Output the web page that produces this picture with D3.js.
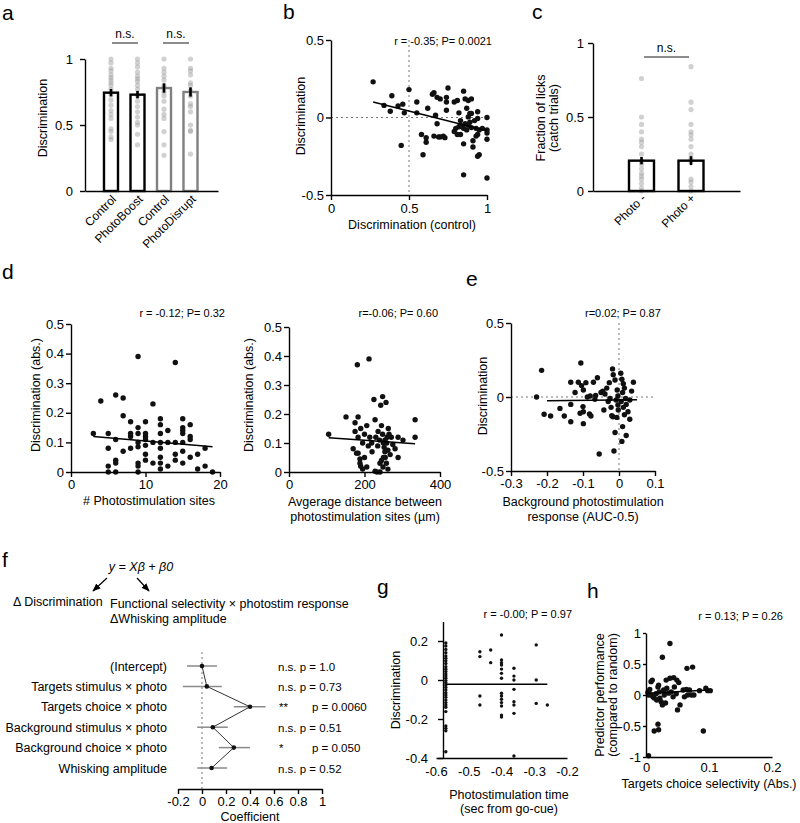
<!DOCTYPE html>
<html><head><meta charset="utf-8">
<script src="https://cdn.jsdelivr.net/npm/d3@7"></script>
<style>body{margin:0;background:#fff}svg{display:block}</style>
</head><body><svg id="c" width="800" height="823"></svg>
<script>
// ---------- DATA ----------
const A_labels = ["Control","PhotoBoost","Control","PhotoDisrupt"];
const A_means = [0.745, 0.73, 0.78, 0.75];
const A_sem = [0.028, 0.028, 0.035, 0.035];
const A_dots = [
  [1,.97,.93,.91,.88,.86,.84,.82,.8,.77,.73,.69,.65,.61,.58,.55,.47,.45,.41,.39],
  [1,.97,.94,.9,.87,.85,.83,.8,.77,.72,.68,.64,.6,.56,.52,.5,.43,.35],
  [1,.93,.9,.87,.84,.8,.78,.75,.72,.68,.62,.58,.55,.45,.35,.27],
  [1,.93,.91,.88,.82,.8,.76,.72,.66,.64,.6,.5,.46,.45,.28]
];
const A_ticks = [0, 0.5, 1];

const B_x = [.27,.34,.38,.39,.43,.45,.46,.47,.50,.55,.55,.58,.59,.61,.61,.62,.65,.66,.67,.68,.68,.69,.70,.70,.73,.74,.75,.74,.74,.79,.79,.81,.81,.83,.82,.83,.83,.84,.85,.85,.85,.86,.87,.88,.88,.89,.89,.90,.90,.90,.91,.91,.93,.94,.94,.95,.94,.94,.95,.97,1.0,1.0,1.0,1.0,1.0,.85,.86,.87,.88,.92,.93,.82,.80,.66,.72];
const B_y = [.23,.078,.04,.14,.075,-.18,.086,.03,.18,.10,.03,-.11,-.24,-.13,-.16,.06,.15,.16,.015,.13,-.04,-.125,.12,-.125,-.13,.13,.19,.10,.047,.10,-.09,.11,-.11,-.11,.03,-.02,-.05,-.06,-.07,-.17,.17,.12,.06,.11,.004,.026,-.03,.12,.026,-.065,-.19,-.15,-.07,-.11,-.25,-.24,.037,-.006,-.08,-.07,0,-.08,-.1,-.14,-.39,-.37,-.04,-.08,-.05,-.02,-.12,-.06,-.07,-.12,-.12];
const B_fitX = [0.27, 1.0];
const B_fitY = [0.10, -0.085];
const B_ticksX = [0, 0.5, 1];
const B_ticksY = [-0.5, 0, 0.5];

const C_labels = ["Photo -","Photo +"];
const C_means = [0.205, 0.205];
const C_sem = [0.025, 0.03];
const C_dots = [
  [.76,.5,.45,.4,.35,.33,.3,.25,.2,.18,.15,.12,.1,.08,.05,.02,0],
  [.84,.6,.55,.45,.4,.38,.35,.3,.25,.22,.2,.08,.06,.03,0]
];
const C_ticks = [0, 0.5, 1];

const D1_x = [3,4,5,5,5,5,6,6,6,6,6,7,7,7,8,8,8,8,9,9,9,9,9,9,9,9,10,10,10,10,10,10,10,11,11,11,12,12,12,12,12,12,12,12,13,13,13,14,14,14,14,15,15,15,15,15,15,15,16,16,16,16,17,17,18,18,19];
const D1_y = [.13,.24,.13,.08,.02,0,.26,.11,.04,.03,0,.25,.19,.07,.17,.12,.08,.13,.39,.15,.13,.10,.085,.03,.02,0,.17,.13,.12,.11,.09,.06,.04,.23,.10,.03,.18,.16,.13,.10,.08,.05,.03,.01,.14,.10,.02,.37,.10,.06,.04,.18,.15,.14,.13,.10,.07,.03,.16,.12,.11,.05,.06,.01,.08,.02,0];
const D1_fitX = [3, 19];
const D1_fitY = [0.12, 0.085];
const D1_ticksX = [0, 10, 20];

const D2_x = [105,151,181,183,212,225,248,243,257,175,175,183,170,179,188,206,214,219,228,236,245,248,254,259,263,271,281,289,334,334,302,183,188,206,241,249,289,254,228,241,190,195,200,210,220,230,235,240,250,252,255,260,262,265,268,275,190,195,233,245,258,262,250,200];
const D2_y = [.13,.19,.37,.19,.39,.25,.26,.23,.24,.17,.14,.12,.08,.065,.045,.16,.12,.10,.18,.14,.16,.13,.11,.10,.15,.12,.08,.12,.18,.12,.11,.065,.03,.017,.03,.017,.05,.07,.003,0,.15,.10,.13,.09,.07,.12,.09,.11,.10,.085,.05,.12,.075,.13,.06,.095,.02,.01,0,.04,.03,.01,.05,.05];
const D2_fitX = [105, 334];
const D2_fitY = [0.118, 0.097];
const D2_ticksX = [0, 200, 400];
const D_ticksY = [0, 0.1, 0.2, 0.3, 0.4, 0.5];

const E_x = [-.229,-.215,-.208,-.19,-.164,-.152,-.134,-.134,-.134,-.122,-.113,-.106,-.104,-.099,-.10,-.099,-.099,-.108,-.092,-.088,-.08,-.082,-.078,-.071,-.067,-.06,-.042,-.039,-.034,-.027,-.022,-.018,-.016,-.011,-.011,-.014,-.055,-.02,-.017,-.006,-.005,-.003,-.003,-.002,.005,.008,.012,.015,.01,.018,.006,.02,.012,.025,.015,.03,.01,.02,.008,.035,.04,.03,-.05,-.045,-.065,-.03,-.025,-.008];
const E_y = [0,.18,-.117,-.128,-.077,-.128,-.167,-.05,.1,.03,.1,.23,.077,.047,-.065,-.1,-.18,-.11,.097,0,.007,-.115,-.128,.1,-.016,.13,-.088,.02,.06,.097,-.07,.19,.15,.115,-.24,-.365,-.385,-.126,-.133,-.138,.047,.007,-.054,-.088,.16,.12,.09,.06,.03,-.01,-.03,-.05,-.07,-.1,-.12,-.15,-.2,-.26,-.3,.04,.1,-.02,.03,.04,.01,-.03,-.01,-.02];
const E_fitX = [-0.2, 0.05];
const E_fitY = [-0.025, -0.018];
const E_ticksX = [-0.3, -0.2, -0.1, 0, 0.1];
const E_ticksY = [-0.5, 0, 0.5];

const F_terms = ["(Intercept)","Targets stimulus \u00d7 photo","Targets choice \u00d7 photo","Background stimulus \u00d7 photo","Background choice \u00d7 photo","Whisking amplitude"];
const F_coef = [0, 0.04, 0.40, 0.09, 0.265, 0.08];
const F_lo = [-0.125, -0.16, 0.265, -0.04, 0.14, -0.04];
const F_hi = [0.125, 0.165, 0.53, 0.215, 0.40, 0.21];
const F_sig = ["n.s.","n.s.","**","n.s.","*","n.s."];
const F_p = ["p = 1.0","p = 0.73","p = 0.0060","p = 0.51","p = 0.050","p = 0.52"];
const F_ticks = [-0.2, 0, 0.2, 0.4, 0.6, 0.8, 1];

const G_times = [-0.57, -0.466, -0.433, -0.40, -0.362, -0.294, -0.26];
const G_values = [
  [.19,.174,.157,.14,.123,.111,.099,.085,.068,.055,.043,.031,.02,.009,-.003,-.014,-.026,-.038,-.051,-.065,-.077,-.089,-.103,-.116,-.128,-.14,-.162,-.236,-.248,-.26,-.368],
  [.145,.12,-.082,-.128],
  [.154,.089],
  [.231,.103,.089,.077,.056,.034,.009,-.068,-.082,-.099,-.116,-.133,-.18,-.19],
  [.06,.02,0,-.048,-.111,-.128,-.171,-.39],
  [.18,0,-.12],
  [-.128]
];
const G_fitX = [-0.57, -0.26];
const G_fitY = [-0.022, -0.022];
const G_ticksX = [-0.6, -0.5, -0.4, -0.3, -0.2];
const G_ticksY = [-0.4, -0.2, 0, 0.2];

const H_x = [.038,.026,.065,.074,.008,.01,.032,.038,.044,.049,.052,.003,.008,.011,.013,.016,.019,.02,.021,.022,.024,.026,.028,.029,.031,.033,.036,.040,.043,.045,.048,.05,.054,.059,.061,.064,.066,.069,.072,.076,.085,.095,.098,.102,.091,.013,.02,.019,.006,.017,.004,.004];
const H_y = [.83,.61,.43,.45,.215,.24,.24,.27,.28,.24,.2,.04,0,-.03,-.05,.02,.13,.16,.05,-.05,-.11,-.16,.08,0,-.13,.11,.03,.05,-.03,.13,.02,-.24,-.16,.08,-.03,.09,0,.08,0,0,.07,.11,.07,.07,-.58,-.58,-.56,-.47,.09,-.08,0,-.98];
const H_fitX = [0.003, 0.1];
const H_fitY = [0.03, 0.08];
const H_ticksX = [0, 0.1, 0.2];
const H_ticksY = [-1, -0.5, 0, 0.5, 1];

// ---------- DRAWING ----------
const F_ = '"Liberation Sans", Arial, Helvetica, sans-serif';
const svg = d3.select("#c");
const fmt = d => String(d);

function st(ax, fs) {
  ax.selectAll('.domain').attr('stroke','#000').attr('stroke-width',1.4);
  ax.selectAll('.tick line').attr('stroke','#000').attr('stroke-width',1.4);
  ax.selectAll('.tick text').attr('font-size',fs||13).attr('font-family',F_).attr('fill','#000');
  return ax;
}
function txt(x, y, s, o = {}) {
  const t = svg.append('text').attr('x',x).attr('y',y).text(s)
    .attr('font-family',F_).attr('font-size',o.fs||12.5)
    .attr('text-anchor',o.a||'start').attr('fill',o.c||'#000');
  if (o.rot) t.attr('transform',`rotate(${o.rot},${x},${y})`);
  if (o.it) t.attr('font-style','italic');
  return t;
}
function leftAxis(x, ys, ticks, size, pad) {
  return st(svg.append('g').attr('transform',`translate(${x},0)`)
    .call(d3.axisLeft(ys).tickValues(ticks).tickFormat(fmt).tickSize(size).tickPadding(pad).tickSizeOuter(0)));
}
function bottomAxis(y, xs, ticks, size, pad) {
  return st(svg.append('g').attr('transform',`translate(0,${y})`)
    .call(d3.axisBottom(xs).tickValues(ticks).tickFormat(fmt).tickSize(size).tickPadding(pad).tickSizeOuter(0)));
}
function dots(xs, ys, X, Y, r) {
  svg.append('g').selectAll('circle').data(d3.range(X.length)).join('circle')
    .attr('cx', i => xs(X[i])).attr('cy', i => ys(Y[i])).attr('r', r).attr('fill','#111');
}
function fit(xs, ys, X, Y, w) {
  svg.append('path').attr('d', d3.line().x((d,i)=>xs(X[i])).y((d,i)=>ys(Y[i]))(X))
    .attr('stroke','#000').attr('stroke-width',w||1.5).attr('fill','none');
}
function dotted(x1,y1,x2,y2){
  svg.append('line').attr('x1',x1).attr('y1',y1).attr('x2',x2).attr('y2',y2)
    .attr('stroke','#777').attr('stroke-width',1).attr('stroke-dasharray','2,3');
}
function bracket(x1,x2,y,label){
  svg.append('line').attr('x1',x1).attr('x2',x2).attr('y1',y).attr('y2',y).attr('stroke','#666').attr('stroke-width',1.5);
  txt((x1+x2)/2, y-5, label, {a:'middle', fs:12});
}

// panel letters
[["a",2,20],["b",283,19],["c",532,19],["d",2,279],["e",466,286],["f",2,567],["g",377,594],["h",587,598]]
  .forEach(([l,x,y]) => txt(x,y,l,{fs:21}));

// ----- panel a -----
{
  const xs = d3.scalePoint().domain(d3.range(4)).range([111,190.5]);
  const ys = d3.scaleLinear([0,1],[191,59]);
  const g = svg.append('g');
  A_dots.forEach((arr,i) => g.selectAll(null).data(arr).join('circle')
      .attr('cx', xs(i)).attr('cy', d => ys(d)).attr('r',2.6).attr('fill','#999').attr('opacity',0.45));
  A_means.forEach((m,i) => {
    const col = i < 2 ? '#000' : '#808080';
    svg.append('rect').attr('x', xs(i)-7).attr('width',14).attr('y', ys(m)).attr('height', ys(0)-ys(m))
      .attr('fill','none').attr('stroke',col).attr('stroke-width',2.4);
    svg.append('line').attr('x1',xs(i)).attr('x2',xs(i)).attr('y1',ys(m-A_sem[i])).attr('y2',ys(m+A_sem[i]))
      .attr('stroke','#000').attr('stroke-width',2.6);
    txt(xs(i)+6, 200, A_labels[i], {a:'end', fs:12, rot:-45});
  });
  leftAxis(85, ys, A_ticks, 5, 7);
  bottomAxis(191, d3.scaleLinear([0,1],[85,218]), [], 0, 0);
  txt(47, 118, "Discrimination", {a:'middle', rot:-90});
  bracket(112,138,43,"n.s.");
  bracket(163,189,43,"n.s.");
}

// ----- panel b -----
{
  const xs = d3.scaleLinear([0,1],[331,487]);
  const ys = d3.scaleLinear([-0.5,0.5],[195,40]);
  dotted(xs(0.5), ys(0.5), xs(0.5), ys(-0.5));
  dotted(xs(0), ys(0), xs(1), ys(0));
  dots(xs, ys, B_x, B_y, 2.7);
  fit(xs, ys, B_fitX, B_fitY);
  leftAxis(331, ys, B_ticksY, 5, 2);
  bottomAxis(195, xs, B_ticksX, 5, 4);
  txt(305, 116, "Discrimination", {a:'middle', rot:-90});
  txt(412, 229, "Discrimination (control)", {a:'middle'});
  txt(492, 45, "r = -0.35; P= 0.0021", {a:'end', fs:11});
}

// ----- panel c -----
{
  const xs = d3.scalePoint().domain(d3.range(2)).range([641.5,691]);
  const ys = d3.scaleLinear([0,1],[191,43]);
  C_dots.forEach((arr,i) => svg.append('g').selectAll('circle').data(arr).join('circle')
      .attr('cx', xs(i)).attr('cy', d => ys(d)).attr('r',2.6).attr('fill','#999').attr('opacity',0.45));
  C_means.forEach((m,i) => {
    svg.append('rect').attr('x', xs(i)-12.5).attr('width',25).attr('y', ys(m)).attr('height', ys(0)-ys(m))
      .attr('fill','none').attr('stroke','#000').attr('stroke-width',2.4);
    svg.append('line').attr('x1',xs(i)).attr('x2',xs(i)).attr('y1',ys(m-C_sem[i])).attr('y2',ys(m+C_sem[i]))
      .attr('stroke','#000').attr('stroke-width',2.6);
    txt(xs(i)+5, 199, C_labels[i], {a:'end', fs:12, rot:-45});
  });
  leftAxis(593, ys, C_ticks, 5, 4);
  bottomAxis(191, d3.scaleLinear([0,1],[593,740]), [], 0, 0);
  txt(545, 118, "Fraction of licks", {a:'middle', rot:-90});
  txt(558, 118, "(catch trials)", {a:'middle', rot:-90});
  bracket(644,689,57,"n.s.");
}

// ----- panel d -----
{
  const xs = d3.scaleLinear([0,20],[71,220]);
  const ys = d3.scaleLinear([0,0.5],[472,324]);
  dots(xs, ys, D1_x, D1_y, 2.7);
  fit(xs, ys, D1_fitX, D1_fitY);
  leftAxis(71, ys, D_ticksY, 5, 2);
  bottomAxis(472, xs, D1_ticksX, 5, 3);
  txt(40, 395, "Discrimination (abs.)", {a:'middle', rot:-90});
  txt(149, 505, "# Photostimulation sites", {a:'middle'});
  txt(225, 317, "r = -0.12; P= 0.32", {a:'end', fs:11});

  const xs2 = d3.scaleLinear([0,400],[289,440]);
  const ys2 = d3.scaleLinear([0,0.5],[472,327]);
  dots(xs2, ys2, D2_x, D2_y, 2.7);
  fit(xs2, ys2, D2_fitX, D2_fitY);
  leftAxis(289, ys2, D_ticksY, 5, 2);
  bottomAxis(472, xs2, D2_ticksX, 5, 3);
  txt(253, 395, "Discrimination (abs.)", {a:'middle', rot:-90});
  txt(365, 506, "Avgerage distance between", {a:'middle'});
  txt(365, 521, "photostimulation sites (\u00b5m)", {a:'middle'});
  txt(438, 317, "r=-0.06; P= 0.60", {a:'end', fs:11});
}

// ----- panel e -----
{
  const xs = d3.scaleLinear([-0.3,0.1],[511,655]);
  const ys = d3.scaleLinear([-0.5,0.5],[471,323]);
  dotted(xs(-0.3), ys(0), xs(0.1), ys(0));
  dotted(xs(0), ys(0.5), xs(0), ys(-0.5));
  dots(xs, ys, E_x, E_y, 2.7);
  fit(xs, ys, E_fitX, E_fitY);
  leftAxis(511, ys, E_ticksY, 5, 2);
  bottomAxis(471, xs, E_ticksX, 5, 3);
  txt(487, 396, "Discrimination", {a:'middle', rot:-90});
  txt(583, 506, "Background photostimulation", {a:'middle'});
  txt(583, 521, "response (AUC-0.5)", {a:'middle'});
  txt(585, 317, "r=0.02; P= 0.87", {a:'start', fs:11});
}

// ----- panel f -----
{
  const defs = svg.append('defs');
  defs.append('marker').attr('id','arr').attr('viewBox','0 0 10 10').attr('refX',9).attr('refY',5)
    .attr('markerWidth',7).attr('markerHeight',7).attr('orient','auto')
    .append('path').attr('d','M0,1 L10,5 L0,9 z').attr('fill','#000');
  txt(141, 571, "y = X\u03b2 + \u03b20", {a:'middle', it:true});
  svg.append('line').attr('x1',107).attr('y1',578).attr('x2',93).attr('y2',591).attr('stroke','#000').attr('stroke-width',1.2).attr('marker-end','url(#arr)');
  svg.append('line').attr('x1',137).attr('y1',578).attr('x2',149).attr('y2',591).attr('stroke','#000').attr('stroke-width',1.2).attr('marker-end','url(#arr)');
  txt(13, 606, "\u0394 Discrimination");
  txt(110, 608, "Functional selectivity \u00d7 photostim response");
  txt(110, 623, "\u0394Whisking amplitude");

  const xs = d3.scaleLinear([-0.2,1],[178,322]);
  const ys = d3.scalePoint().domain(d3.range(6)).range([666,768]);
  dotted(xs(0), 652, xs(0), 789);
  F_terms.forEach((t,i) => {
    svg.append('line').attr('x1',xs(F_lo[i])).attr('x2',xs(F_hi[i])).attr('y1',ys(i)).attr('y2',ys(i))
      .attr('stroke','#8a8a8a').attr('stroke-width',1.5);
    txt(167, ys(i)+4.5, t, {a:'end'});
    if (F_sig[i] === 'n.s.') {
      txt(278, ys(i)+4.5, F_sig[i] + " " + F_p[i], {fs:11.5});
    } else {
      txt(279, ys(i)+4.5, F_sig[i], {fs:11.5});
      txt(312, ys(i)+4.5, F_p[i], {fs:11.5});
    }
  });
  svg.append('path').attr('d', d3.line().x((d,i)=>xs(F_coef[i])).y((d,i)=>ys(i))(F_coef))
    .attr('stroke','#333').attr('stroke-width',1).attr('fill','none');
  svg.append('g').selectAll('circle').data(F_coef).join('circle')
    .attr('cx', d => xs(d)).attr('cy', (d,i) => ys(i)).attr('r',2.3).attr('fill','#111');
  bottomAxis(789, xs, F_ticks, 5, 3);
  txt(250, 821, "Coefficient", {a:'middle'});
}

// ----- panel g -----
{
  const xs = d3.scaleLinear([-0.6,-0.2],[436,567]);
  const ys = d3.scaleLinear([-0.4,0.3],[758,621.5]);
  const gx = [], gy = [];
  G_times.forEach((t,i) => G_values[i].forEach(v => { gx.push(t); gy.push(v); }));
  dots(xs, ys, gx, gy, 1.7);
  fit(xs, ys, G_fitX, G_fitY);
  leftAxis(443, ys, G_ticksY, 5, 10);
  bottomAxis(758, xs, G_ticksX, 0, 9);
  txt(400, 690, "Discrimination", {a:'middle', rot:-90});
  txt(509, 799, "Photostimulation time", {a:'middle'});
  txt(509, 813, "(sec from go-cue)", {a:'middle'});
  txt(572, 618, "r = -0.00; P = 0.97", {a:'end', fs:11});
}

// ----- panel h -----
{
  const xs = d3.scaleLinear([0,0.2],[646,772]);
  const ys = d3.scaleLinear([-1,1],[757,633]);
  dots(xs, ys, H_x, H_y, 2.7);
  fit(xs, ys, H_fitX, H_fitY);
  leftAxis(646, ys, H_ticksY, 3, 2);
  bottomAxis(757, xs, H_ticksX, 0, 6);
  txt(604, 695, "Predictor performance", {a:'middle', rot:-90});
  txt(617, 695, "(compared to random)", {a:'middle', rot:-90});
  txt(709, 788, "Targets choice selectivity (Abs.)", {a:'middle'});
  txt(783, 620, "r = 0.13; P = 0.26", {a:'end', fs:11});
}
</script></body></html>
